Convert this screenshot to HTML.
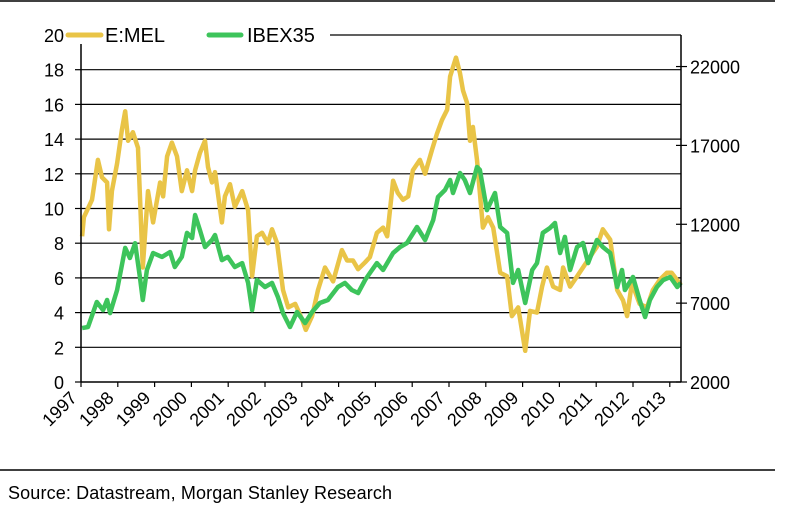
<!DOCTYPE html>
<html><head><meta charset="utf-8"><style>
html,body{margin:0;padding:0;background:#fff;}
svg{display:block;font-family:"Liberation Sans",Arial,sans-serif;}
</style></head><body>
<svg id="chart" width="790" height="508" viewBox="0 0 790 508">
<line x1="0" y1="1" x2="775" y2="1" stroke="#000" stroke-width="1.5"/>
<line x1="0" y1="470" x2="775" y2="470" stroke="#000" stroke-width="1.5"/>
<text x="8" y="499" font-size="18" fill="#000" textLength="384">Source: Datastream, Morgan Stanley Research</text>
<g id="grid"></g>
<g id="series"></g>
<g id="axes"></g>
<g>
<rect x="66" y="26" width="264" height="18" fill="#fff"/>
<line x1="68" y1="35" x2="101" y2="35" stroke="#E9C447" stroke-width="5" stroke-linecap="round"/>
<text x="105" y="42" font-size="20">E:MEL</text>
<line x1="209" y1="35" x2="241" y2="35" stroke="#3DC45B" stroke-width="5" stroke-linecap="round"/>
<text x="247" y="42" font-size="20">IBEX35</text>
</g>
<text x="64" y="42" font-size="18" text-anchor="end">20</text>
</svg>
<script>
const years = ["1997","1998","1999","2000","2001","2002","2003","2004","2005","2006","2007","2008","2009","2010","2011","2012","2013"];
const leftTicks = [0,2,4,6,8,10,12,14,16,18];
const rightTicks = [2000,7000,12000,17000,22000];
const melDates = [1997.03,1997.08,1997.30,1997.46,1997.57,1997.71,1997.76,1997.84,1997.98,1998.11,1998.20,1998.28,1998.41,1998.55,1998.68,1998.82,1998.96,1999.15,1999.23,1999.34,1999.47,1999.61,1999.74,1999.88,2000.02,2000.10,2000.23,2000.37,2000.45,2000.56,2000.64,2000.83,2000.91,2001.05,2001.18,2001.38,2001.54,2001.65,2001.78,2001.92,2002.08,2002.19,2002.33,2002.49,2002.63,2002.82,2003.01,2003.11,2003.28,2003.44,2003.63,2003.85,2004.09,2004.23,2004.39,2004.53,2004.72,2004.85,2005.04,2005.21,2005.32,2005.48,2005.61,2005.75,2005.89,2006.02,2006.21,2006.35,2006.54,2006.67,2006.81,2006.95,2007.03,2007.19,2007.30,2007.38,2007.49,2007.57,2007.65,2007.76,2007.92,2008.06,2008.20,2008.39,2008.58,2008.71,2008.88,2009.07,2009.20,2009.39,2009.53,2009.66,2009.83,2010.02,2010.10,2010.29,2010.42,2010.64,2010.83,2011.02,2011.18,2011.38,2011.57,2011.73,2011.84,2011.97,2012.18,2012.38,2012.54,2012.73,2012.92,2013.05,2013.30];
const melValues = [8.4,9.5,10.5,12.8,11.8,11.5,8.8,11,12.6,14.5,15.6,13.9,14.4,13.5,6.6,11,9.2,11.5,10.7,13,13.8,13,11,12.2,11,12.2,13.2,13.9,12.4,11.5,12.1,9.2,10.7,11.4,10.1,11,9.9,6.1,8.4,8.6,8,8.8,8,5.3,4.3,4.5,3.6,3.0,3.8,5.3,6.6,5.8,7.6,7,7,6.5,6.9,7.2,8.6,8.9,8.4,11.6,10.9,10.5,10.7,12.2,12.8,12,13.4,14.3,15.1,15.7,17.6,18.7,17.8,16.8,16.1,13.9,14.7,12.8,8.9,9.5,8.9,6.3,6.1,3.8,4.3,1.8,4.1,4.0,5.5,6.6,5.5,5.3,6.6,5.5,5.9,6.6,7.2,7.8,8.8,8.2,5.3,4.7,3.8,5.7,4.5,4.3,5.3,5.9,6.3,6.3,5.6];
const ibexDates = [1997.03,1997.19,1997.43,1997.60,1997.71,1997.79,1997.98,1998.20,1998.33,1998.47,1998.60,1998.68,1998.79,1998.96,1999.20,1999.42,1999.55,1999.74,1999.88,2000.02,2000.10,2000.23,2000.37,2000.56,2000.64,2000.83,2000.99,2001.18,2001.38,2001.54,2001.65,2001.78,2002.00,2002.19,2002.35,2002.49,2002.68,2002.87,2003.09,2003.28,2003.49,2003.71,2003.98,2004.17,2004.36,2004.53,2004.72,2004.85,2005.04,2005.21,2005.48,2005.67,2005.86,2006.13,2006.35,2006.57,2006.70,2006.89,2007.03,2007.11,2007.30,2007.43,2007.57,2007.76,2007.84,2008.03,2008.25,2008.39,2008.58,2008.74,2008.88,2009.07,2009.26,2009.39,2009.55,2009.74,2009.88,2010.02,2010.15,2010.29,2010.48,2010.64,2010.78,2011.02,2011.18,2011.38,2011.57,2011.70,2011.78,2012.00,2012.18,2012.33,2012.46,2012.65,2012.82,2013.01,2013.20,2013.30];
const ibexValues = [5420,5490,7070,6560,7200,6370,7830,10500,9860,10800,8660,7200,9100,10180,9930,10240,9290,9930,11450,11130,12590,11640,10560,11000,11320,9730,9930,9290,9540,8280,6560,8470,8020,8280,7390,6370,5490,6440,5740,6440,7010,7200,8020,8280,7830,7640,8470,8910,9540,9100,10180,10560,10810,11830,11000,12270,13730,14170,14810,13980,15250,14810,13980,15630,15440,12900,13980,11830,11450,8280,9100,7010,9100,9540,11450,11760,12080,10180,11200,9100,10560,10810,9540,11000,10560,10180,8020,9100,7830,8660,7200,6120,7200,8020,8470,8660,8020,8280];

const X0=81, XW=36.8, Y0=382, YU=17.35, XR=681;
function xs(t){return X0+(t-1997)*XW;}
function yl(v){return Y0-v*YU;}
function yr(v){return Y0-(v-2000)/1100*YU;}
const NS="http://www.w3.org/2000/svg";
function mk(tag,attrs,parent){const e=document.createElementNS(NS,tag);for(const k in attrs)e.setAttribute(k,attrs[k]);parent.appendChild(e);return e;}
const grid=document.getElementById('grid'), axes=document.getElementById('axes'), series=document.getElementById('series');

[...leftTicks,20].forEach(v=>{
  if(v===0) return;
  const g=mk('line',{x1:X0,y1:yl(v),x2:XR,y2:yl(v),stroke:'#000','stroke-width':1.2},grid);
  
  
});
leftTicks.forEach(v=>{
  const t=mk('line',{x1:X0-6,y1:yl(v),x2:X0,y2:yl(v),stroke:'#000','stroke-width':1.2},axes);
  
  
  const l=mk('text',{x:64,y:yl(v)+7,'font-size':18,'text-anchor':'end'},axes);
  l.textContent=v;
  
  
});
rightTicks.forEach(v=>{
  const t=mk('line',{x1:XR-5,y1:yr(v),x2:XR+6,y2:yr(v),stroke:'#000','stroke-width':1.2},axes);
  
  
  const l=mk('text',{x:690,y:yr(v)+7,'font-size':18},axes);
  l.textContent=v;
  
  
});
const la=mk('line',{x1:X0,y1:yl(20),x2:X0,y2:Y0,stroke:'#000','stroke-width':1.5},axes);


const ra=mk('line',{x1:XR,y1:yl(20),x2:XR,y2:Y0,stroke:'#000','stroke-width':1.5},axes);


const xa=mk('line',{x1:X0,y1:Y0,x2:XR,y2:Y0,stroke:'#000','stroke-width':1.5},axes);


years.forEach(y=>{
  const x=xs(+y);
  const t=mk('line',{x1:x,y1:Y0,x2:x,y2:Y0+5,stroke:'#000','stroke-width':1.2},axes);
  
  
  const lx=x-3, ly=Y0+17;
  const l=mk('text',{x:lx,y:ly,'font-size':18,'text-anchor':'end',transform:`rotate(-45 ${lx} ${ly})`},axes);
  l.textContent=y;
  
  
});
function path(d,v,f){return d.map((t,i)=>(i?'L':'M')+xs(t).toFixed(1)+' '+f(v[i]).toFixed(1)).join(' ');}
const pm=mk('path',{d:path(melDates,melValues,yl),fill:'none',stroke:'#E9C447','stroke-width':4.5,'stroke-linejoin':'round'},series);


const pi=mk('path',{d:path(ibexDates,ibexValues,yr),fill:'none',stroke:'#3DC45B','stroke-width':4.5,'stroke-linejoin':'round'},series);


</script>
</body></html>
